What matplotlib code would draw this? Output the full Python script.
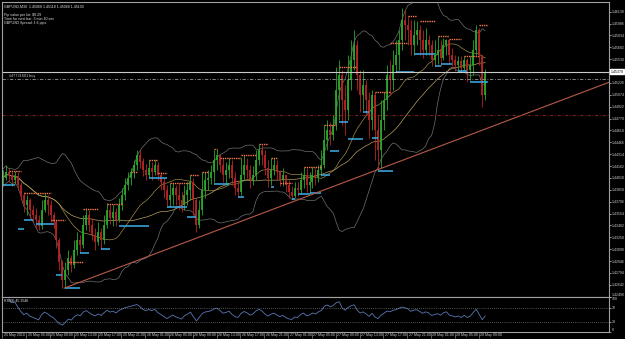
import matplotlib
matplotlib.use("Agg")
import matplotlib.pyplot as plt
import numpy as np
import pandas as pd

# ---------------- data ----------------
bar_high = [1.4411,1.4418,1.4414,1.4409,1.4410,1.4409,1.4396,1.4383,1.4379,1.4375,
            1.4366,1.4363,1.4354,1.4373,1.4382,1.4379,1.4373,1.4357,1.4347,1.4324,
            1.4296,1.4293,1.4309,1.4302,1.4322,1.4332,1.4328,1.4354,1.4363,1.4360,
            1.4350,1.4337,1.4345,1.4337,1.4354,1.4369,1.4366,1.4366,1.4363,1.4375,
            1.4388,1.4401,1.4409,1.4414,1.4424,1.4437,1.4437,1.4427,1.4419,1.4424,
            1.4422,1.4424,1.4422,1.4409,1.4401,1.4392,1.4395,1.4395,1.4392,1.4395,
            1.4383,1.4392,1.4396,1.4405,1.4401,1.4375,1.4373,1.4409,1.4409,1.4411,
            1.4418,1.4437,1.4438,1.4430,1.4427,1.4422,1.4427,1.4424,1.4409,1.4398,
            1.4427,1.4430,1.4427,1.4418,1.4416,1.4437,1.4445,1.4443,1.4437,1.4424,
            1.4427,1.4427,1.4424,1.4411,1.4414,1.4405,1.4398,1.4391,1.4396,1.4396,
            1.4409,1.4415,1.4414,1.4409,1.4415,1.4414,1.4418,1.4437,1.4469,1.4475,
            1.4473,1.4482,1.4543,1.4552,1.4539,1.4520,1.4558,1.4578,1.4590,1.4578,
            1.4539,1.4539,1.4526,1.4511,1.4514,1.4511,1.4482,1.4501,1.4511,1.4546,
            1.4552,1.4565,1.4578,1.4590,1.4619,1.4616,1.4608,1.4603,1.4603,1.4602,
            1.4597,1.4590,1.4593,1.4584,1.4578,1.4578,1.4583,1.4578,1.4580,1.4579,
            1.4578,1.4567,1.4558,1.4557,1.4557,1.4557,1.4555,1.4557,1.4578,1.4597,
            1.4593,1.4558,1.4540]
bar_low = [1.4392,1.4398,1.4396,1.4391,1.4393,1.4386,1.4373,1.4357,1.4354,1.4350,
           1.4345,1.4337,1.4334,1.4336,1.4357,1.4354,1.4345,1.4337,1.4311,1.4283,
           1.4260,1.4260,1.4277,1.4281,1.4286,1.4302,1.4305,1.4311,1.4334,1.4332,
           1.4322,1.4309,1.4315,1.4310,1.4316,1.4337,1.4342,1.4340,1.4340,1.4345,
           1.4360,1.4373,1.4386,1.4392,1.4401,1.4411,1.4414,1.4404,1.4398,1.4401,
           1.4398,1.4405,1.4398,1.4386,1.4375,1.4364,1.4364,1.4366,1.4366,1.4360,
           1.4357,1.4360,1.4366,1.4373,1.4354,1.4332,1.4337,1.4354,1.4375,1.4386,
           1.4393,1.4396,1.4411,1.4409,1.4396,1.4392,1.4401,1.4392,1.4379,1.4377,
           1.4379,1.4398,1.4401,1.4388,1.4392,1.4398,1.4418,1.4418,1.4405,1.4389,
           1.4392,1.4405,1.4398,1.4391,1.4391,1.4383,1.4375,1.4374,1.4375,1.4378,
           1.4381,1.4388,1.4383,1.4382,1.4388,1.4392,1.4396,1.4404,1.4414,1.4437,
           1.4443,1.4450,1.4462,1.4475,1.4469,1.4456,1.4475,1.4514,1.4539,1.4514,
           1.4485,1.4488,1.4482,1.4452,1.4462,1.4424,1.4411,1.4414,1.4462,1.4488,
           1.4507,1.4514,1.4537,1.4539,1.4565,1.4578,1.4571,1.4558,1.4558,1.4571,
           1.4558,1.4555,1.4558,1.4558,1.4544,1.4544,1.4547,1.4544,1.4552,1.4558,
           1.4547,1.4544,1.4538,1.4539,1.4537,1.4539,1.4524,1.4526,1.4533,1.4558,
           1.4546,1.4492,1.4501]
bar_close = [1.4401,1.4409,1.4405,1.4398,1.4404,1.4392,1.4379,1.4366,1.4373,1.4360,
             1.4354,1.4347,1.4340,1.4360,1.4373,1.4366,1.4354,1.4345,1.4322,1.4293,
             1.4270,1.4283,1.4299,1.4290,1.4309,1.4322,1.4315,1.4341,1.4354,1.4341,
             1.4328,1.4319,1.4332,1.4322,1.4341,1.4360,1.4350,1.4357,1.4347,1.4366,
             1.4379,1.4392,1.4401,1.4409,1.4418,1.4430,1.4422,1.4411,1.4405,1.4414,
             1.4409,1.4418,1.4405,1.4396,1.4386,1.4373,1.4379,1.4388,1.4379,1.4373,
             1.4366,1.4379,1.4386,1.4396,1.4373,1.4341,1.4360,1.4386,1.4398,1.4401,
             1.4409,1.4424,1.4430,1.4418,1.4405,1.4411,1.4418,1.4401,1.4388,1.4383,
             1.4405,1.4418,1.4411,1.4398,1.4405,1.4424,1.4437,1.4430,1.4414,1.4401,
             1.4411,1.4418,1.4409,1.4398,1.4405,1.4392,1.4383,1.4378,1.4388,1.4386,
             1.4398,1.4405,1.4392,1.4396,1.4405,1.4401,1.4411,1.4418,1.4450,1.4462,
             1.4456,1.4469,1.4514,1.4533,1.4501,1.4488,1.4526,1.4552,1.4571,1.4533,
             1.4507,1.4520,1.4501,1.4475,1.4507,1.4462,1.4437,1.4475,1.4501,1.4533,
             1.4526,1.4546,1.4558,1.4578,1.4603,1.4597,1.4590,1.4571,1.4584,1.4590,
             1.4578,1.4565,1.4578,1.4571,1.4552,1.4558,1.4565,1.4555,1.4571,1.4578,
             1.4558,1.4552,1.4546,1.4550,1.4542,1.4552,1.4539,1.4546,1.4565,1.4590,
             1.4558,1.4507,1.4537]
first_open = 1.4398

time_labels = ["25 May 2010", "25 May 05:00", "25 May 09:00", "25 May 13:00", "25 May 17:00",
               "25 May 21:00", "26 May 01:00", "26 May 05:00", "26 May 09:00", "26 May 13:00",
               "26 May 17:00", "26 May 21:00", "27 May 01:00", "27 May 05:00", "27 May 09:00",
               "27 May 13:00", "27 May 17:00", "27 May 21:00", "28 May 01:00", "28 May 05:00",
               "28 May 09:00"]
bars_per_label = 8

price_ticks = [1.42490, 1.42642, 1.42794, 1.42946, 1.43098, 1.43250, 1.43402, 1.43554,
               1.43706, 1.43858, 1.44010, 1.44162, 1.44314, 1.44466, 1.44618, 1.44770,
               1.44922, 1.45074, 1.45226, 1.45530, 1.45682, 1.45834, 1.45986, 1.46138]

# resistance (start bar, end bar, price) and support levels
res_start = [2, 7, 16, 22, 27, 35, 43, 49, 52, 56, 63, 67, 71, 73, 80, 86, 90, 93, 101, 108,
             113, 125, 130, 136, 140, 146, 150, 155, 160]
res_end   = [6, 16, 21, 27, 32, 40, 45, 52, 55, 63, 66, 69, 72, 80, 85, 89, 92, 97, 107, 112,
             119, 130, 136, 139, 145, 150, 154, 160, 163]
res_level = [1.4410, 1.4382, 1.4347, 1.4293, 1.4361, 1.4368, 1.4409, 1.4424, 1.4407, 1.4395,
             1.4405, 1.4409, 1.4438, 1.4427, 1.4430, 1.4445, 1.4427, 1.4395, 1.4415, 1.4469,
             1.4543, 1.4511, 1.4574, 1.4608, 1.4602, 1.4583, 1.4579, 1.4557, 1.4597]
sup_start = [0, 5, 7, 11, 18, 21, 26, 33, 39, 49, 55, 62, 71, 79, 90, 97, 99, 103, 107, 110,
             113, 116, 121, 124, 126, 132, 138, 145, 147, 153, 157]
sup_end   = [4, 7, 10, 17, 20, 26, 29, 36, 49, 55, 62, 65, 76, 81, 91, 98, 103, 107, 110, 113,
             116, 121, 123, 126, 131, 138, 145, 147, 151, 156, 163]
sup_level = [1.4392, 1.4336, 1.4347, 1.4342, 1.4277, 1.4260, 1.4305, 1.4310, 1.4340, 1.4401,
             1.4364, 1.4351, 1.4393, 1.4377, 1.4389, 1.4374, 1.4381, 1.4382, 1.4405, 1.4436,
             1.4473, 1.4451, 1.4485, 1.4452, 1.4410, 1.4537, 1.4560, 1.4544, 1.4547, 1.4538,
             1.4524]

trend_bars = [20.6, 204.0]
trend_prices = [1.4260, 1.4524]
order_price = 1.4528
sl_price = 1.4482
bid_price = 1.4537
order_label = "#47731601 buy"
info_lines = ["GBPUSD,M30  1.45068 1.45118 1.45068 1.45100", "",
              "Pip value per lot: $9.29", "Time for next bar: 3 min 10 sec",
              "GBPUSD Spread: 1.6 pips"]
rsi_title = "RSI(9) 45.3546"

# ---------------- figure ----------------
FONT = ["Liberation Sans Narrow", "Liberation Sans", "DejaVu Sans"]
plt.rcParams["font.family"] = FONT
W, H = 625, 339
fig = plt.figure(figsize=(W / 100, H / 100), dpi=100, facecolor="black")

def frac(x0, y0, x1, y1):
    return [x0 / W, 1 - y1 / H, (x1 - x0) / W, (y1 - y0) / H]

ax = fig.add_axes(frac(2, 2, 609, 297), facecolor="black")
axr = fig.add_axes(frac(2, 297, 609, 332), facecolor="black", sharex=ax)

n = len(bar_close)
x = np.arange(n)
close = np.array(bar_close)
opens = np.concatenate([[first_open], close[:-1]])
high = np.array(bar_high)
low = np.array(bar_low)
up = close >= opens
up_col, dn_col = "#2aa82a", "#b82424"
cols = np.where(up, up_col, dn_col)

# indicators
s = pd.Series(close)
mid = s.rolling(20, min_periods=1).mean()
sd = s.rolling(20, min_periods=2).std().bfill()
ax.plot(x, mid + 2 * sd, color="#707070", lw=0.5)
ax.plot(x, mid - 2 * sd, color="#707070", lw=0.5)
ax.plot(x, mid, color="#9c8a4a", lw=0.5)
ma40 = s.rolling(40, min_periods=1).mean()
ax.plot(x, ma40, color="#b8a060", lw=0.5)

# candles
ax.vlines(x, low, high, colors=cols, lw=0.6)
ax.vlines(x, np.minimum(opens, close), np.maximum(opens, close) + 1e-5, colors=cols, lw=1.3)

# support / resistance
ax.hlines(res_level, res_start, res_end, colors="#f07850", lw=1.0, linestyles=(0, (1, 0.6)))
ax.hlines(sup_level, sup_start, sup_end, colors="#3ab0e8", lw=1.1)

# trend line and order lines
ax.plot(trend_bars, trend_prices, color="#b85a48", lw=0.8)
ax.axhline(bid_price, color="#c8c8c8", lw=0.8)
ax.axhline(order_price, color="#9a9a9a", lw=0.6, linestyle=(0, (4, 2, 1, 2)))
ax.axhline(sl_price, color="#8a2a22", lw=0.6, linestyle=(0, (4, 2, 1, 2)))
ax.text(2, order_price + 0.0001, order_label, color="#c8c8c8", fontsize=2.7, va="bottom", ha="left")

ax.set_xlim(-0.3, 203.6)
ax.set_ylim(1.42486, 1.46262)
ax.yaxis.tick_right()
ax.set_yticks(price_ticks)
ax.set_yticklabels([f"{v:.5f}" for v in price_ticks])
ax.tick_params(axis="y", colors="#d0d0d0", labelsize=2.5, length=1.5, width=0.5, pad=0.6)
ax.tick_params(axis="x", bottom=False, labelbottom=False)
ax.get_yticklabels()[0].set_va("bottom")
for sp in ax.spines.values():
    sp.set_color("#a0a0a0")
    sp.set_linewidth(0.8)

# price box
ax.text(1.003, bid_price, f"{bid_price:.5f}", transform=ax.get_yaxis_transform(), color="black",
        fontsize=2.5, va="center", ha="left",
        bbox=dict(boxstyle="square,pad=0.15", fc="white", ec="white"))

for i, t in enumerate(info_lines):
    ax.text(0.004, 0.993 - i * 0.0135 - (0.004 if i > 0 else 0), t, transform=ax.transAxes,
            color="#e0e0e0", fontsize=2.6, va="top", ha="left")

# RSI
delta = s.diff()
gain = delta.clip(lower=0).ewm(alpha=1 / 9, adjust=False).mean()
loss = (-delta.clip(upper=0)).ewm(alpha=1 / 9, adjust=False).mean()
rsi = 100 - 100 / (1 + gain / loss.replace(0, np.nan))
axr.plot(x[1:], rsi[1:], color="#5a78b4", lw=0.6)
axr.axhline(70, color="#a0a0a0", lw=0.5, linestyle=(0, (1, 2)))
axr.axhline(30, color="#a0a0a0", lw=0.5, linestyle=(0, (1, 2)))
axr.set_ylim(0, 100)
axr.yaxis.tick_right()
axr.set_yticks([100, 70, 30, 0])
axr.set_yticklabels(["100", "70", "30", "0"])
axr.tick_params(axis="y", colors="#d0d0d0", labelsize=2.5, length=1.5, width=0.5, pad=0.6)
axr.tick_params(axis="x", bottom=False, labelbottom=False)
axr.get_yticklabels()[0].set_va("top")
axr.get_yticklabels()[3].set_va("bottom")
for sp in axr.spines.values():
    sp.set_color("#a0a0a0")
    sp.set_linewidth(0.8)
axr.text(0.004, 0.93, rsi_title, transform=axr.transAxes, color="#e0e0e0", fontsize=2.6,
         va="top", ha="left")

# time labels
for k, lab in enumerate(time_labels):
    xb = k * bars_per_label
    axr.text(xb + 0.3, -4, lab, color="#d0d0d0", fontsize=2.6, va="top", ha="left",
             clip_on=False)
    axr.plot([xb - 0.2, xb - 0.2], [-2, -16], color="#a0a0a0", lw=0.4, clip_on=False)

fig.savefig("out.png", dpi=100, facecolor="black")
